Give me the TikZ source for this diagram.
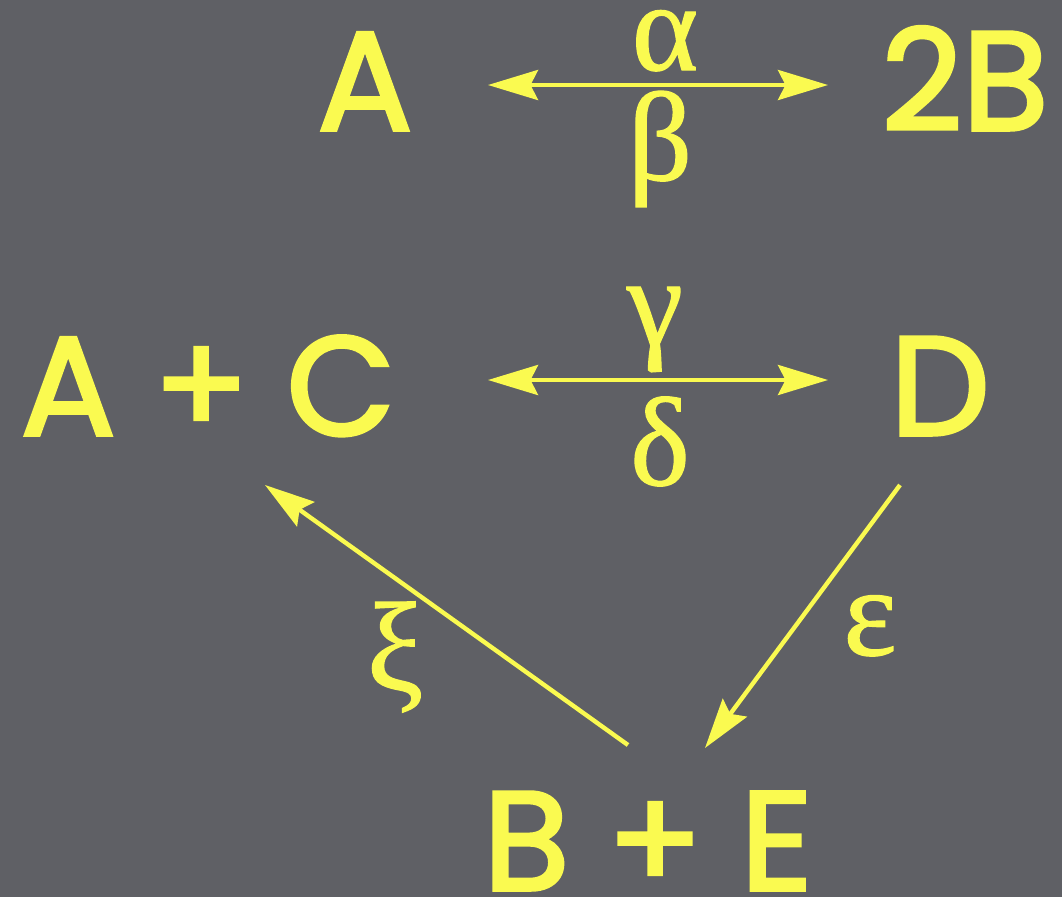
\documentclass[tikz,border=0pt]{standalone}
\usepackage{fontspec}
\newfontfamily\chalkfont{Poppins}[FakeBold=2.5]
\newfontfamily\greekfont{Liberation Serif}[FakeBold=1]
\usetikzlibrary{arrows.meta}

\definecolor{board}{RGB}{95,96,101}
\definecolor{chalk}{RGB}{250,250,80}

\begin{document}
\begin{tikzpicture}[
  x=0.02cm, y=-0.02cm,
  species/.style={text=chalk, inner sep=0pt, anchor=base, font=\chalkfont\fontsize{80}{90}\selectfont},
  rate/.style={text=chalk, inner sep=0pt, anchor=base, font=\greekfont\fontsize{72}{80}\selectfont},
  arrow/.style={-{Stealth[length=1cm, width=0.6cm, inset=0.15cm]}, line width=2.5pt, draw=chalk},
  twoway/.style={arrow, {Stealth[length=1cm, width=0.6cm, inset=0.15cm]}-{Stealth[length=1cm, width=0.6cm, inset=0.15cm]}}
]
\fill[board] (0,0) rectangle (1062,897);

% species
\node[species] (a) at (365,130) {A};
\node[species] (b2) at (965,130) {2B};
\node[species] (ac) at (208,435) {A + C};
\node[species] (d) at (940,435) {D};
\node[species] (be) at (648,890) {B + E};

% rate constants
\node[rate] (alpha) at (665,70) {α};
\node[rate] (beta) at (660,180) {β};
\node[rate] (gamma) at (655,345) {γ};
\node[rate] (delta) at (660,485) {δ};
\node[rate] (eps) at (870,655) {ε};
\node[rate] (xi) at (395,690) {ξ};

% reactions
\draw[twoway] ([shift={(123,-45)}]a.base) -- ([shift={(-137,-45)}]b2.base);
\draw[twoway] ([shift={(280,-55)}]ac.base) -- ([shift={(-112,-55)}]d.base);
\draw[arrow] ([shift={(-20,-145)}]be.base) -- ([shift={(57,50)}]ac.base);
\draw[arrow] ([shift={(-40,50)}]d.base) -- ([shift={(57,-142)}]be.base);
\end{tikzpicture}
\end{document}
